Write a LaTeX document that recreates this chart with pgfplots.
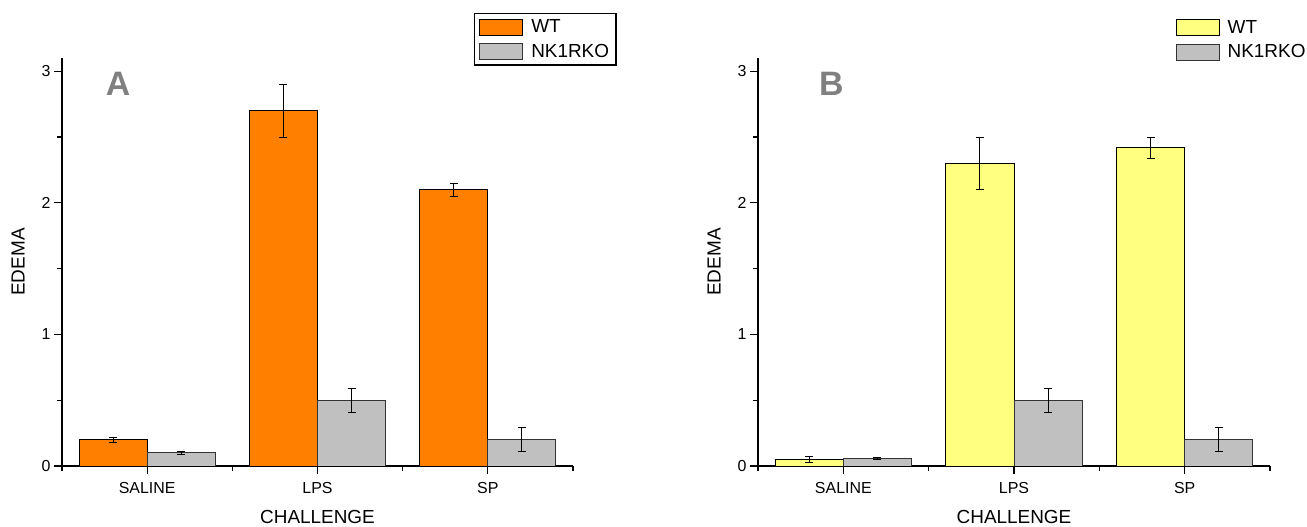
\documentclass[border=0pt]{standalone}
\usepackage{pgfplots}
\pgfplotsset{compat=1.18}
\usepackage{fontspec}
\setmainfont{Liberation Sans}

\definecolor{wtorange}{RGB}{255,128,0}
\definecolor{wtyellow}{RGB}{255,255,128}
\definecolor{kogray}{RGB}{192,192,192}
\definecolor{lettergray}{RGB}{128,128,128}

\pgfplotsset{
  edema/.style={
    scale only axis, width=511bp, height=408bp,
    xmin=0.5, xmax=3.5, ymin=0, ymax=3.1,
    axis lines*=left, axis line style={line width=1.1bp},
    tick align=outside, major tick length=8bp, minor tick length=5bp,
    tick style={black, line width=1.1bp},
    xtick={1,2,3}, xticklabels={SALINE,LPS,SP},
    minor xtick={0.5,1.5,2.5,3.5},
    ytick={0,1,2,3}, minor ytick={0.5,1.5,2.5},
    /pgf/number format/assume math mode=true,
    ticklabel style={font=\fontsize{16}{16}\selectfont},
    xticklabel style={yshift=-5bp},
    label style={font=\fontsize{19}{19}\selectfont},
    xlabel={CHALLENGE}, ylabel={EDEMA},
    xlabel style={at={(axis description cs:0.5,0)}, anchor=center, yshift=-51bp},
    ylabel style={at={(axis description cs:0,0.5)}, anchor=center, rotate=0, yshift=44bp},
    ybar, bar width=0.4,
    legend cell align=left,
    error bars/error bar style={line width=0.9bp, black},
    error bars/error mark options={rotate=90, mark size=4bp, line width=0.9bp, black},
  },
  legbox/.style={legend image code/.code={
    \draw[##1, line width=0.8bp] (0bp,-8bp) rectangle (43bp,8bp);}},
  legfont/.style={legend style={font=\fontsize{19}{19}\selectfont,
    inner xsep=5bp, inner ysep=4bp, row sep=6bp,
    /tikz/every odd column/.append style={column sep=6bp}}},
}

\begin{document}
\begin{tikzpicture}
\useasboundingbox (0bp,0bp) rectangle (1307bp,527bp);

% panel A
\begin{axis}[edema, at={(62bp,61bp)}, anchor=south west, legfont,
  legend style={at={(axis description cs:0.806,1.11)}, anchor=north west,
    draw=black, line width=1.2bp}]
\addplot[legbox, fill=wtorange, draw=black, line width=1bp, bar shift=-0.2,
  error bars/.cd, y dir=both, y explicit]
  coordinates {(1,0.2) +- (0,0.02) (2,2.7) +- (0,0.2) (3,2.1) +- (0,0.05)};
\addplot[legbox, fill=kogray, draw=black!80, line width=1bp, bar shift=0.2,
  error bars/.cd, y dir=both, y explicit]
  coordinates {(1,0.1) +- (0,0.01) (2,0.5) +- (0,0.09) (3,0.2) +- (0,0.09)};
\legend{WT,NK1RKO}
\node[font=\bfseries\fontsize{34}{34}\selectfont, text=lettergray] at (axis cs:0.83,2.9) {A};
\end{axis}

% panel B
\begin{axis}[edema, at={(758bp,61bp)}, anchor=south west, width=512bp, legfont,
  legend style={at={(axis description cs:0.806,1.108)}, anchor=north west,
    draw=none}]
\addplot[legbox, fill=wtyellow, draw=black, line width=1bp, bar shift=-0.2,
  error bars/.cd, y dir=both, y explicit]
  coordinates {(1,0.05) +- (0,0.023) (2,2.3) +- (0,0.2) (3,2.42) +- (0,0.08)};
\addplot[legbox, fill=kogray, draw=black!80, line width=1bp, bar shift=0.2,
  error bars/.cd, y dir=both, y explicit]
  coordinates {(1,0.06) +- (0,0.008) (2,0.5) +- (0,0.09) (3,0.2) +- (0,0.09)};
\legend{WT,NK1RKO}
\node[font=\bfseries\fontsize{34}{34}\selectfont, text=lettergray] at (axis cs:0.93,2.9) {B};
\end{axis}
\end{tikzpicture}
\end{document}
